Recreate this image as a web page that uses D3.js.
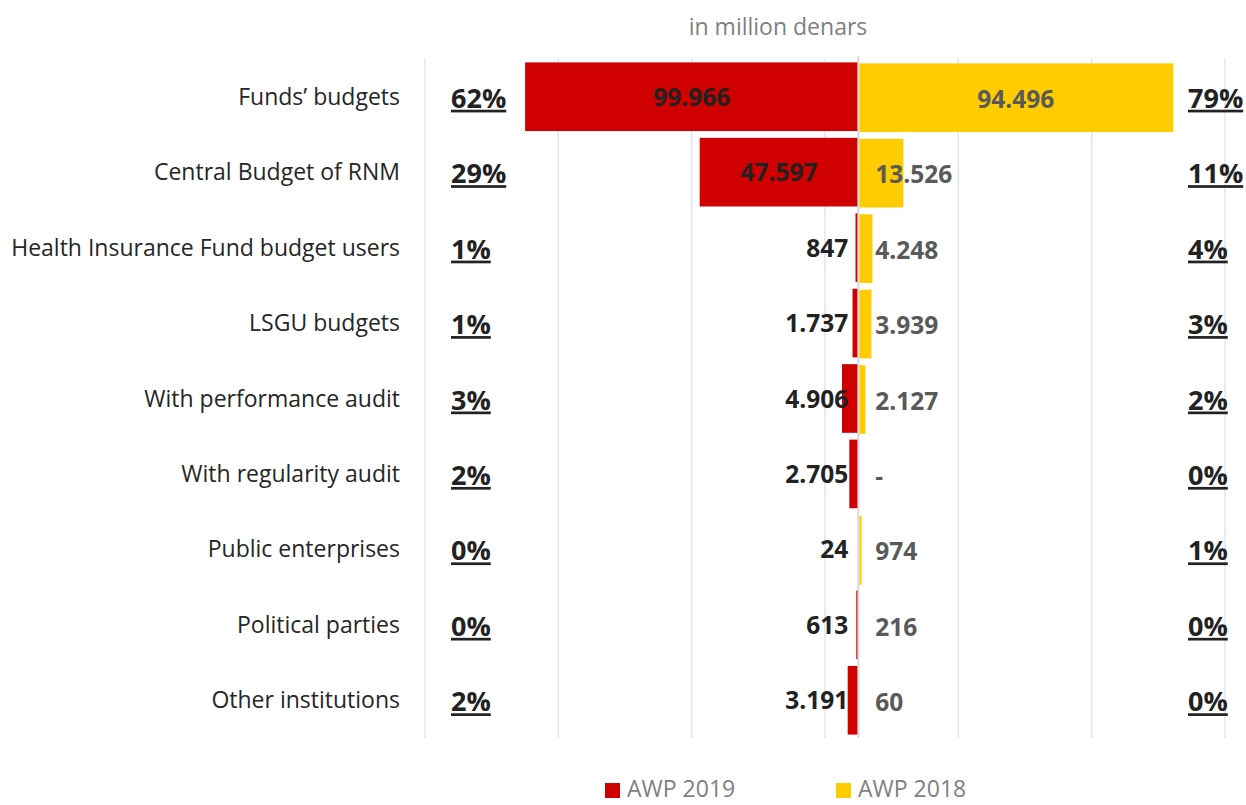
<!DOCTYPE html>
<html>
<head>
<meta charset="utf-8">
<script src="https://cdn.jsdelivr.net/npm/d3@7"></script>
<style>
  html, body { margin: 0; padding: 0; background: #fff; }
  svg { display: block; }
</style>
</head>
<body>
<svg id="chart" width="1246" height="805"></svg>
<script>
const categories = ["Funds\u2019 budgets", "Central Budget of RNM", "Health Insurance Fund budget users", "LSGU budgets", "With performance audit", "With regularity audit", "Public enterprises", "Political parties", "Other institutions"];
const awp2019 = [99966, 47597, 847, 1737, 4906, 2705, 24, 613, 3191];
const awp2018 = [94496, 13526, 4248, 3939, 2127, 0, 974, 216, 60];
const labels2019 = ["99.966", "47.597", "847", "1.737", "4.906", "2.705", "24", "613", "3.191"];
const labels2018 = ["94.496", "13.526", "4.248", "3.939", "2.127", "-", "974", "216", "60"];
const pct2019 = ["62%", "29%", "1%", "1%", "3%", "2%", "0%", "0%", "2%"];
const pct2018 = ["79%", "11%", "4%", "3%", "2%", "0%", "1%", "0%", "0%"];
const gridTicks = [-130000, -90000, -50000, -10000, 30000, 70000, 110000];
const seriesNames = ["AWP 2019", "AWP 2018"];
const title = "in million denars";

const RED = "#D00000", YELLOW = "#FFCC00";
const svg = d3.select("#chart");
const font = "'Open Sans', 'Segoe UI', sans-serif";

const x = d3.scaleLinear().domain([-130000, 110000]).range([425, 1225]);
const y = d3.scaleBand().domain(categories).range([59, 738]).paddingInner(0.09).paddingOuter(0.045);

// gridlines
svg.append("g").selectAll("line").data(gridTicks).join("line")
  .attr("x1", d => x(d)).attr("x2", d => x(d))
  .attr("y1", 59).attr("y2", 738)
  .attr("stroke", "#D6E3F1").attr("stroke-width", 1.3);

// title
svg.append("text").attr("x", 778).attr("y", 35).attr("text-anchor", "middle")
  .attr("font-family", font).attr("font-size", 23).attr("fill", "#7F7F7F").text(title);

// bars 2019 (left)
svg.append("g").selectAll("rect").data(categories).join("rect")
  .attr("x", (d, i) => x(-awp2019[i])).attr("width", (d, i) => x(0) - x(-awp2019[i]))
  .attr("y", d => y(d)).attr("height", y.bandwidth())
  .attr("fill", RED);

// bars 2018 (right)
svg.append("g").selectAll("rect").data(categories).join("rect")
  .attr("x", x(0) + 1).attr("width", (d, i) => Math.max(0, x(awp2018[i]) - x(0) - 1))
  .attr("y", d => y(d) + 1).attr("height", y.bandwidth())
  .attr("fill", YELLOW);

// center line
svg.append("line").attr("x1", x(0)).attr("x2", x(0)).attr("y1", 56).attr("y2", 738)
  .attr("stroke", "#D9D9D9").attr("stroke-width", 2);

// category labels
svg.append("g").selectAll("text").data(categories).join("text")
  .attr("x", 400).attr("y", d => y(d) + y.bandwidth() / 2 + 8)
  .attr("text-anchor", "end").attr("font-family", font).attr("font-size", 23)
  .attr("fill", "#262626").text(d => d);

// value labels 2019
svg.append("g").selectAll("text").data(categories).join("text")
  .each(function(d, i) {
    const w = x(0) - x(-awp2019[i]);
    const t = d3.select(this);
    if (w > 100) t.attr("x", (x(0) + x(-awp2019[i])) / 2).attr("text-anchor", "middle");
    else t.attr("x", x(0) - 10).attr("text-anchor", "end");
  })
  .attr("y", d => y(d) + y.bandwidth() / 2 + 9)
  .attr("font-family", font).attr("font-size", 24.5).attr("font-weight", "bold")
  .attr("fill", "#222").text((d, i) => labels2019[i]);

// value labels 2018
svg.append("g").selectAll("text").data(categories).join("text")
  .each(function(d, i) {
    const w = x(awp2018[i]) - x(0);
    const t = d3.select(this);
    if (w > 100) t.attr("x", (x(0) + x(awp2018[i])) / 2).attr("text-anchor", "middle");
    else t.attr("x", x(0) + 17).attr("text-anchor", "start");
  })
  .attr("y", d => y(d) + y.bandwidth() / 2 + 11)
  .attr("font-family", font).attr("font-size", 24.5).attr("font-weight", "bold")
  .attr("fill", "#595959").text((d, i) => labels2018[i]);

// percentages
function pctCol(arr, px) {
  const g = svg.append("g");
  g.selectAll("text").data(categories).join("text")
    .attr("x", px).attr("y", d => y(d) + y.bandwidth() / 2 + 11)
    .attr("font-family", font).attr("font-size", 27).attr("font-weight", "bold")
    .attr("fill", "#222").attr("text-decoration", "underline")
    .text((d, i) => arr[i]);
}
pctCol(pct2019, 451);
pctCol(pct2018, 1188);

// legend
const leg = svg.append("g");
[[605, RED, seriesNames[0]], [836, YELLOW, seriesNames[1]]].forEach(([lx, c, t]) => {
  leg.append("rect").attr("x", lx).attr("y", 783).attr("width", 15).attr("height", 15).attr("fill", c);
  leg.append("text").attr("x", lx + 22).attr("y", 797).attr("font-family", font)
    .attr("font-size", 23).attr("fill", "#7F7F7F").text(t);
});
</script>
</body>
</html>
